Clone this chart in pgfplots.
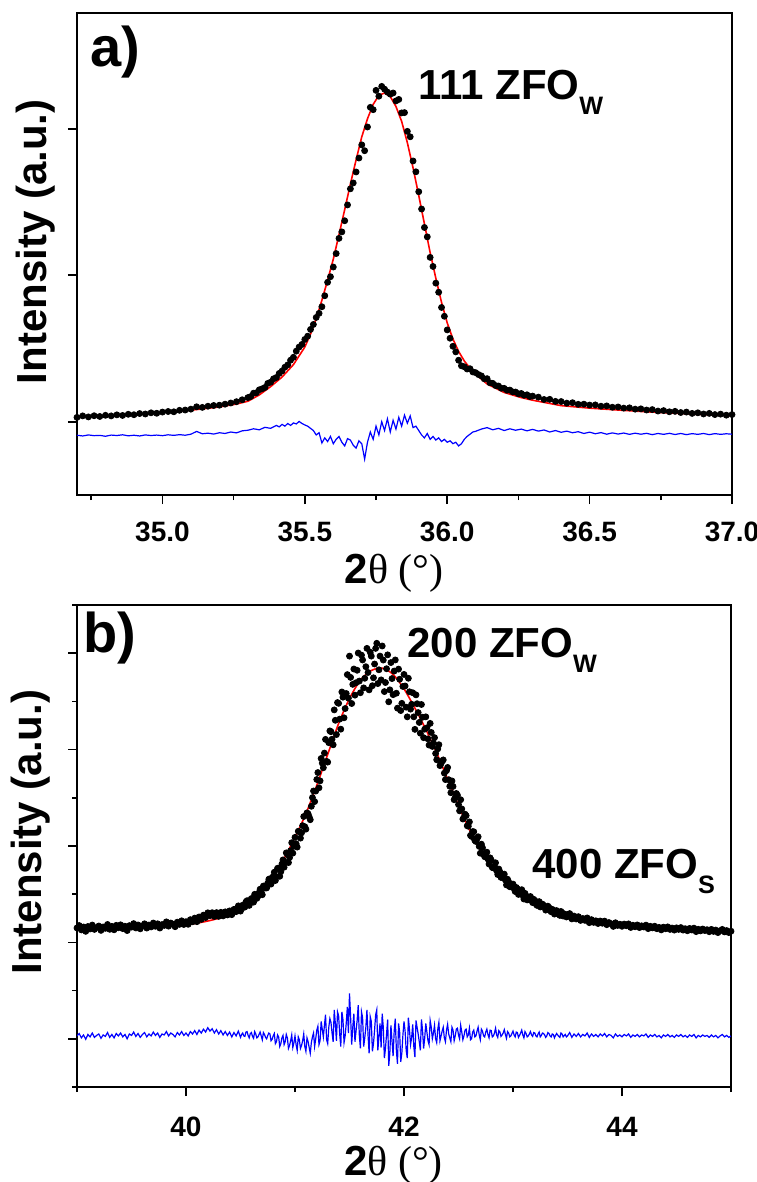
\documentclass[border=0pt]{standalone}
\usepackage{fontspec}
\setmainfont{Liberation Sans}
\newfontfamily\serif{Liberation Serif}
\usepackage{pgfplots}
\usepackage{pgfplotstable}
\pgfplotsset{compat=1.18}

% ---------- panel a: observed points ----------
\pgfplotstableread{
x y
34.70 0.030
34.72 0.040
34.74 0.033
34.76 0.041
34.78 0.036
34.80 0.044
34.82 0.040
34.84 0.047
34.86 0.043
34.88 0.051
34.90 0.048
34.92 0.056
34.94 0.053
34.96 0.061
34.98 0.058
35.00 0.066
35.02 0.070
35.04 0.068
35.06 0.078
35.08 0.080
35.10 0.086
35.12 0.102
35.14 0.098
35.16 0.106
35.18 0.111
35.20 0.113
35.22 0.120
35.24 0.128
35.26 0.137
35.28 0.150
35.30 0.165
35.31 0.172
35.32 0.195
35.33 0.198
35.34 0.218
35.35 0.225
35.36 0.234
35.37 0.262
35.38 0.270
35.39 0.293
35.40 0.302
35.41 0.330
35.42 0.346
35.43 0.372
35.44 0.388
35.45 0.420
35.46 0.440
35.47 0.482
35.48 0.510
35.49 0.528
35.50 0.562
35.51 0.584
35.52 0.630
35.53 0.664
35.54 0.712
35.55 0.740
35.56 0.785
35.57 0.860
35.58 0.952
35.59 0.990
35.60 1.056
35.61 1.148
35.62 1.252
35.63 1.296
35.64 1.372
35.65 1.480
35.66 1.590
35.67 1.630
35.68 1.705
35.69 1.800
35.70 1.890
35.71 1.850
35.72 2.012
35.73 2.146
35.74 2.130
35.75 2.262
35.76 2.222
35.77 2.289
35.78 2.270
35.79 2.250
35.80 2.236
35.81 2.244
35.82 2.190
35.83 2.200
35.84 2.108
35.85 2.110
35.86 1.982
35.87 1.945
35.88 1.780
35.89 1.706
35.90 1.570
35.91 1.452
35.92 1.326
35.93 1.262
35.94 1.122
35.95 1.060
35.96 0.946
35.97 0.884
35.98 0.780
35.99 0.720
36.00 0.627
36.01 0.570
36.02 0.515
36.03 0.477
36.04 0.420
36.05 0.382
36.06 0.375
36.07 0.360
36.08 0.362
36.09 0.340
36.10 0.335
36.11 0.322
36.12 0.313
36.13 0.293
36.14 0.294
36.15 0.266
36.16 0.262
36.17 0.247
36.18 0.244
36.19 0.229
36.20 0.228
36.21 0.215
36.22 0.216
36.23 0.204
36.24 0.203
36.25 0.191
36.26 0.193
36.27 0.181
36.28 0.184
36.29 0.172
36.30 0.175
36.32 0.168
36.34 0.152
36.36 0.153
36.38 0.139
36.40 0.138
36.42 0.127
36.44 0.130
36.46 0.119
36.48 0.120
36.50 0.114
36.52 0.115
36.54 0.106
36.56 0.108
36.58 0.099
36.60 0.101
36.62 0.093
36.64 0.095
36.66 0.086
36.68 0.088
36.70 0.080
36.72 0.083
36.74 0.073
36.76 0.076
36.78 0.068
36.80 0.071
36.82 0.063
36.84 0.066
36.86 0.057
36.88 0.061
36.90 0.053
36.92 0.057
36.94 0.049
36.96 0.052
36.98 0.045
37.00 0.049
}\dotsA

% ---------- panel a: fit ----------
\pgfplotstableread{
x y
34.70 0.034
34.80 0.040
34.90 0.050
35.00 0.064
35.10 0.079
35.20 0.101
35.26 0.121
35.30 0.140
35.34 0.183
35.38 0.240
35.42 0.305
35.46 0.390
35.50 0.510
35.52 0.598
35.54 0.704
35.56 0.830
35.58 0.966
35.60 1.110
35.62 1.277
35.64 1.448
35.66 1.622
35.68 1.788
35.70 1.945
35.72 2.068
35.74 2.166
35.76 2.228
35.78 2.244
35.80 2.220
35.82 2.152
35.84 2.050
35.86 1.905
35.88 1.733
35.90 1.545
35.92 1.350
35.94 1.155
35.96 0.980
35.98 0.815
36.00 0.675
36.02 0.565
36.04 0.480
36.06 0.415
36.08 0.365
36.10 0.325
36.14 0.258
36.20 0.200
36.26 0.165
36.30 0.147
36.40 0.110
36.50 0.093
36.60 0.080
36.70 0.068
36.80 0.058
36.90 0.049
37.00 0.041
}\fitA

% ---------- panel a: difference ----------
\pgfplotstableread{
x y
34.70 -0.092
34.72 -0.097
34.74 -0.090
34.76 -0.095
34.78 -0.093
34.80 -0.099
34.82 -0.091
34.84 -0.094
34.86 -0.089
34.88 -0.096
34.90 -0.092
34.92 -0.097
34.94 -0.090
34.96 -0.094
34.98 -0.091
35.00 -0.095
35.02 -0.089
35.04 -0.093
35.06 -0.088
35.08 -0.092
35.10 -0.085
35.12 -0.066
35.14 -0.082
35.16 -0.078
35.18 -0.084
35.20 -0.075
35.22 -0.080
35.24 -0.070
35.26 -0.076
35.28 -0.062
35.30 -0.058
35.32 -0.048
35.34 -0.055
35.36 -0.038
35.38 -0.045
35.40 -0.025
35.41 -0.035
35.42 -0.018
35.43 -0.030
35.44 -0.012
35.45 -0.025
35.46 -0.008
35.47 -0.015
35.48 0.002
35.49 -0.012
35.50 -0.022
35.51 -0.030
35.52 -0.045
35.53 -0.060
35.54 -0.090
35.55 -0.075
35.56 -0.145
35.57 -0.110
35.58 -0.135
35.59 -0.100
35.60 -0.150
35.61 -0.120
35.62 -0.100
35.63 -0.140
35.64 -0.165
35.65 -0.115
35.66 -0.125
35.67 -0.160
35.68 -0.180
35.69 -0.130
35.70 -0.150
35.71 -0.255
35.72 -0.140
35.73 -0.070
35.74 -0.120
35.75 -0.030
35.76 -0.090
35.77 0.000
35.78 -0.060
35.79 0.020
35.80 -0.070
35.81 0.010
35.82 -0.050
35.83 0.030
35.84 -0.030
35.85 0.045
35.86 -0.010
35.87 0.040
35.88 -0.040
35.89 -0.030
35.90 -0.060
35.91 -0.090
35.92 -0.110
35.93 -0.080
35.94 -0.120
35.95 -0.100
35.96 -0.125
35.97 -0.110
35.98 -0.135
35.99 -0.120
36.00 -0.140
36.01 -0.130
36.02 -0.150
36.03 -0.140
36.04 -0.165
36.05 -0.150
36.06 -0.120
36.07 -0.100
36.08 -0.085
36.09 -0.070
36.10 -0.065
36.12 -0.050
36.14 -0.040
36.16 -0.055
36.18 -0.045
36.20 -0.060
36.22 -0.048
36.24 -0.058
36.26 -0.050
36.28 -0.062
36.30 -0.052
36.32 -0.064
36.34 -0.056
36.36 -0.070
36.38 -0.060
36.40 -0.072
36.42 -0.064
36.44 -0.075
36.46 -0.068
36.48 -0.080
36.50 -0.071
36.52 -0.082
36.54 -0.074
36.56 -0.085
36.58 -0.076
36.60 -0.084
36.62 -0.077
36.64 -0.086
36.66 -0.078
36.68 -0.085
36.70 -0.079
36.72 -0.088
36.74 -0.080
36.76 -0.086
36.78 -0.079
36.80 -0.087
36.82 -0.080
36.84 -0.088
36.86 -0.081
36.88 -0.086
36.90 -0.080
36.92 -0.088
36.94 -0.081
36.96 -0.086
36.98 -0.082
37.00 -0.085
}\diffA

% ---------- panel b: observed points (d) and difference (r) ----------
\pgfplotstableread{
x d r
39.00 1.150 0.030
39.02 1.175 0.055
39.04 1.130 0.010
39.06 1.160 0.040
39.08 1.115 -0.005
39.10 1.165 0.045
39.12 1.140 0.020
39.14 1.180 0.060
39.16 1.135 0.015
39.18 1.155 0.035
39.20 1.170 0.050
39.22 1.125 0.005
39.24 1.160 0.040
39.26 1.146 0.025
39.28 1.186 0.065
39.30 1.136 0.015
39.32 1.166 0.045
39.34 1.131 0.010
39.36 1.177 0.055
39.38 1.152 0.030
39.40 1.182 0.060
39.42 1.143 0.020
39.44 1.168 0.045
39.46 1.123 0.000
39.48 1.174 0.050
39.50 1.159 0.035
39.52 1.195 0.070
39.54 1.150 0.025
39.56 1.181 0.055
39.58 1.141 0.015
39.60 1.172 0.045
39.62 1.193 0.065
39.64 1.149 0.020
39.66 1.180 0.050
39.68 1.161 0.030
39.70 1.201 0.070
39.72 1.167 0.035
39.74 1.193 0.060
39.76 1.149 0.015
39.78 1.185 0.050
39.80 1.176 0.040
39.82 1.213 0.075
39.84 1.169 0.030
39.86 1.201 0.060
39.88 1.188 0.045
39.90 1.163 0.020
39.92 1.210 0.065
39.94 1.187 0.040
39.96 1.224 0.075
39.98 1.186 0.035
40.00 1.215 0.060
40.02 1.188 0.030
40.04 1.236 0.075
40.06 1.214 0.050
40.08 1.252 0.085
40.10 1.215 0.045
40.12 1.264 0.090
40.14 1.239 0.060
40.16 1.283 0.100
40.18 1.258 0.070
40.20 1.307 0.115
40.22 1.278 0.080
40.24 1.308 0.105
40.26 1.269 0.060
40.28 1.309 0.095
40.30 1.270 0.050
40.32 1.312 0.085
40.34 1.275 0.040
40.36 1.317 0.075
40.38 1.285 0.035
40.40 1.327 0.070
40.42 1.288 0.020
40.44 1.343 0.065
40.46 1.319 0.030
40.48 1.379 0.080
40.50 1.325 0.015
40.51 1.363 0.045
40.52 1.386 0.060
40.53 1.364 0.030
40.54 1.367 0.025
40.55 1.420 0.070
40.56 1.433 0.075
40.57 1.401 0.035
40.58 1.384 0.010
40.59 1.437 0.055
40.60 1.455 0.065
40.61 1.426 0.025
40.62 1.418 0.005
40.63 1.499 0.075
40.64 1.486 0.050
40.65 1.457 0.010
40.66 1.479 0.020
40.67 1.515 0.045
40.68 1.552 0.070
40.69 1.523 0.030
40.70 1.495 -0.010
40.71 1.585 0.065
40.72 1.580 0.045
40.73 1.565 0.015
40.74 1.565 0.000
40.75 1.615 0.035
40.76 1.655 0.060
40.77 1.660 0.050
40.78 1.605 -0.020
40.79 1.635 -0.005
40.80 1.685 0.030
40.81 1.728 0.055
40.82 1.642 -0.050
40.83 1.680 -0.030
40.84 1.769 0.040
40.85 1.767 0.020
40.86 1.686 -0.080
40.87 1.734 -0.050
40.88 1.813 0.010
40.89 1.856 0.035
40.90 1.780 -0.060
40.91 1.832 -0.030
40.92 1.929 0.045
40.93 1.916 0.010
40.94 1.828 -0.100
40.95 1.880 -0.070
40.96 1.952 -0.020
40.97 2.034 0.040
40.98 1.926 -0.090
40.99 1.998 -0.040
41.00 2.090 0.030
41.01 2.024 -0.060
41.02 1.989 -0.120
41.03 2.153 0.020
41.04 2.148 -0.010
41.05 2.082 -0.100
41.06 2.137 -0.070
41.07 2.211 -0.020
41.08 2.306 0.050
41.09 2.200 -0.080
41.10 2.175 -0.130
41.11 2.344 0.010
41.12 2.334 -0.030
41.13 2.303 -0.090
41.14 2.273 -0.150
41.15 2.412 -0.040
41.16 2.502 0.020
41.17 2.571 0.060
41.18 2.461 -0.080
41.19 2.570 0.000
41.20 2.690 0.090
41.21 2.762 0.130
41.22 2.604 -0.060
41.23 2.676 -0.020
41.24 2.908 0.180
41.25 2.860 0.100
41.26 2.812 0.020
41.27 2.964 0.140
41.28 3.106 0.250
41.29 2.878 -0.010
41.30 2.870 -0.050
41.31 3.072 0.120
41.32 3.194 0.210
41.33 3.186 0.170
41.34 3.108 0.060
41.35 3.050 -0.030
41.36 3.412 0.300
41.37 3.304 0.160
41.38 3.156 -0.020
41.39 3.488 0.280
41.40 3.480 0.240
41.41 3.316 0.050
41.42 3.212 -0.080
41.43 3.598 0.280
41.44 3.544 0.200
41.45 3.330 -0.040
41.46 3.426 0.030
41.47 3.582 0.160
41.48 3.778 0.330
41.49 3.534 0.060
41.50 3.970 0.470
41.51 3.749 0.230
41.52 3.478 -0.060
41.53 3.677 0.120
41.54 3.836 0.260
41.55 3.565 -0.030
41.56 3.694 0.080
41.57 3.823 0.190
41.58 4.002 0.350
41.59 3.711 0.040
41.60 3.590 -0.100
41.61 3.980 0.280
41.62 3.930 0.220
41.63 3.640 -0.080
41.64 3.740 0.010
41.65 3.860 0.120
41.66 4.050 0.300
41.67 3.800 0.040
41.68 3.620 -0.150
41.69 4.010 0.230
41.70 3.970 0.180
41.71 3.663 -0.130
41.72 3.745 -0.050
41.73 3.888 0.090
41.74 4.050 0.250
41.75 4.103 0.300
41.76 3.685 -0.120
41.77 3.828 0.020
41.78 3.970 0.160
41.79 3.723 -0.090
41.80 4.075 0.260
41.81 3.929 0.120
41.82 3.602 -0.200
41.83 3.696 -0.100
41.84 3.839 0.050
41.85 3.983 0.200
41.86 3.496 -0.280
41.87 3.620 -0.150
41.88 3.903 0.140
41.89 3.737 -0.020
41.90 3.570 -0.180
41.91 3.815 0.080
41.92 3.930 0.210
41.93 3.585 -0.120
41.94 3.430 -0.260
41.95 3.835 0.160
41.96 3.730 0.070
41.97 3.405 -0.240
41.98 3.480 -0.150
41.99 3.655 0.040
42.00 3.780 0.180
42.01 3.660 0.080
42.02 3.440 -0.120
42.03 3.340 -0.200
42.04 3.740 0.220
42.05 3.600 0.100
42.06 3.420 -0.060
42.07 3.470 0.010
42.08 3.590 0.150
42.09 3.340 -0.080
42.10 3.210 -0.190
42.11 3.568 0.190
42.12 3.476 0.120
42.13 3.384 0.050
42.14 3.282 -0.030
42.15 3.170 -0.120
42.16 3.468 0.200
42.17 3.336 0.090
42.18 3.124 -0.100
42.19 3.212 0.010
42.20 3.340 0.160
42.21 3.226 0.070
42.22 3.111 -0.020
42.23 3.047 -0.060
42.24 3.272 0.190
42.25 3.178 0.120
42.26 3.033 0.000
42.27 3.069 0.060
42.28 3.124 0.140
42.29 2.960 0.000
42.30 2.895 -0.040
42.31 3.008 0.100
42.32 3.051 0.170
42.33 2.834 -0.020
42.34 2.857 0.030
42.35 2.880 0.080
42.36 2.893 0.120
42.37 2.756 0.010
42.38 2.689 -0.030
42.39 2.782 0.090
42.40 2.815 0.150
42.41 2.688 0.050
42.42 2.620 0.010
42.43 2.553 -0.030
42.44 2.675 0.120
42.45 2.618 0.090
42.46 2.480 -0.020
42.47 2.503 0.030
42.48 2.545 0.100
42.49 2.528 0.110
42.50 2.430 0.040
42.51 2.365 0.000
42.52 2.480 0.140
42.53 2.385 0.070
42.54 2.280 -0.010
42.55 2.295 0.030
42.56 2.330 0.090
42.57 2.315 0.100
42.58 2.210 0.020
42.59 2.205 0.040
42.60 2.250 0.110
42.61 2.110 -0.010
42.62 2.099 0.000
42.63 2.149 0.070
42.64 2.148 0.090
42.65 2.058 0.020
42.66 2.047 0.030
42.67 2.077 0.080
42.68 2.096 0.120
42.69 1.996 0.040
42.70 1.925 -0.010
42.71 2.019 0.100
42.72 1.982 0.080
42.73 1.916 0.030
42.74 1.889 0.020
42.75 1.923 0.070
42.76 1.936 0.100
42.77 1.865 0.045
42.78 1.813 0.010
42.79 1.877 0.090
42.80 1.855 0.085
42.81 1.777 0.020
42.82 1.773 0.030
42.83 1.790 0.060
42.84 1.826 0.110
42.85 1.743 0.040
42.86 1.704 0.015
42.87 1.761 0.085
42.88 1.732 0.070
42.89 1.674 0.025
42.90 1.675 0.040
42.91 1.684 0.060
42.92 1.708 0.095
42.93 1.647 0.045
42.94 1.596 0.005
42.95 1.655 0.075
42.96 1.629 0.060
42.97 1.578 0.020
42.98 1.577 0.030
42.99 1.591 0.055
43.00 1.605 0.080
43.01 1.557 0.040
43.02 1.528 0.020
43.03 1.570 0.070
43.04 1.556 0.065
43.05 1.498 0.015
43.06 1.509 0.035
43.07 1.526 0.060
43.08 1.547 0.090
43.09 1.489 0.040
43.10 1.450 0.010
43.11 1.509 0.075
43.12 1.482 0.055
43.13 1.441 0.020
43.14 1.444 0.030
43.15 1.458 0.050
43.16 1.476 0.075
43.17 1.435 0.040
43.18 1.413 0.025
43.19 1.447 0.065
43.20 1.435 0.060
43.21 1.400 0.030
43.22 1.384 0.020
43.23 1.409 0.050
43.24 1.423 0.070
43.25 1.368 0.020
43.26 1.377 0.035
43.27 1.397 0.060
43.28 1.386 0.055
43.29 1.366 0.040
43.30 1.335 0.015
43.31 1.346 0.030
43.32 1.376 0.065
43.33 1.362 0.055
43.34 1.332 0.030
43.35 1.318 0.020
43.36 1.343 0.050
43.37 1.334 0.045
43.38 1.294 0.010
43.39 1.315 0.035
43.40 1.330 0.055
43.41 1.312 0.040
43.42 1.293 0.025
43.43 1.280 0.015
43.44 1.321 0.060
43.45 1.308 0.050
43.46 1.274 0.020
43.47 1.286 0.035
43.48 1.292 0.045
43.49 1.264 0.020
43.50 1.270 0.030
43.52 1.299 0.065
43.54 1.244 0.015
43.56 1.273 0.050
43.58 1.243 0.025
43.60 1.267 0.055
43.62 1.228 0.020
43.64 1.248 0.045
43.66 1.229 0.030
43.68 1.254 0.060
43.70 1.205 0.015
43.72 1.236 0.050
43.74 1.208 0.025
43.76 1.224 0.045
43.78 1.196 0.020
43.80 1.222 0.050
43.82 1.199 0.030
43.84 1.221 0.055
43.86 1.184 0.020
43.88 1.206 0.045
43.90 1.193 0.035
43.92 1.166 0.010
43.94 1.204 0.050
43.96 1.176 0.025
43.98 1.189 0.040
44.00 1.167 0.020
44.02 1.190 0.045
44.04 1.173 0.030
44.06 1.192 0.050
44.08 1.155 0.015
44.10 1.178 0.040
44.12 1.162 0.025
44.14 1.181 0.045
44.16 1.154 0.020
44.18 1.172 0.040
44.20 1.160 0.030
44.22 1.179 0.050
44.24 1.143 0.015
44.26 1.167 0.040
44.28 1.151 0.025
44.30 1.168 0.045
44.32 1.142 0.020
44.34 1.156 0.035
44.36 1.130 0.010
44.38 1.158 0.040
44.40 1.142 0.025
44.42 1.161 0.045
44.44 1.135 0.020
44.46 1.149 0.035
44.48 1.128 0.015
44.50 1.151 0.040
44.52 1.135 0.025
44.54 1.154 0.045
44.56 1.128 0.020
44.58 1.142 0.035
44.60 1.121 0.015
44.62 1.145 0.040
44.64 1.129 0.025
44.66 1.148 0.045
44.68 1.112 0.010
44.70 1.136 0.035
44.72 1.120 0.020
44.74 1.139 0.040
44.76 1.123 0.025
44.78 1.132 0.035
44.80 1.111 0.015
44.82 1.135 0.040
44.84 1.114 0.020
44.86 1.128 0.035
44.88 1.102 0.010
44.90 1.121 0.030
44.92 1.135 0.045
44.94 1.109 0.020
44.96 1.123 0.035
44.98 1.102 0.015
45.00 1.116 0.030
}\dataB

% ---------- panel b: fit ----------
\pgfplotstableread{
x y
39.0 1.150
39.2 1.150
39.4 1.152
39.6 1.157
39.8 1.166
40.0 1.185
40.1 1.200
40.2 1.222
40.3 1.250
40.4 1.287
40.5 1.340
40.6 1.420
40.7 1.535
40.8 1.685
40.9 1.870
41.0 2.090
41.1 2.335
41.2 2.630
41.3 2.950
41.4 3.270
41.5 3.530
41.6 3.720
41.7 3.820
41.8 3.845
41.9 3.780
42.0 3.630
42.1 3.430
42.2 3.210
42.3 2.965
42.4 2.695
42.5 2.420
42.6 2.170
42.7 1.965
42.8 1.800
42.9 1.665
43.0 1.555
43.1 1.470
43.2 1.405
43.3 1.350
43.4 1.305
43.5 1.270
43.6 1.242
43.7 1.220
43.8 1.202
43.9 1.188
44.0 1.177
44.2 1.160
44.4 1.147
44.6 1.136
44.8 1.126
45.0 1.116
}\fitB

\begin{document}
\begin{tikzpicture}
\pgfplotsset{
  panel/.style={
    scale only axis,
    tick align=outside,
    tick pos=left,
    major tick length=4.5pt,
    minor tick length=2.5pt,
    every tick/.style={black, line width=0.8pt},
    axis line style={line width=0.8pt},
    ticklabel style={font=\fontsize{14}{16}\selectfont\bfseries},
    label style={font=\fontsize{21}{25}\selectfont\bfseries},
    xlabel={2{\serif\mdseries θ (°)}},
    ylabel={Intensity (a.u.)},
    yticklabel=\empty,
  },
  dots/.style={only marks, mark=*, mark size=1.5pt, mark options={draw=black, fill=black}},
  fit/.style={red, line width=0.8pt, no marks},
  diff/.style={blue, line width=0.6pt, no marks},
}
% ---------------- panel a ----------------
\begin{axis}[panel,
  at={(38.5pt,-247.5pt)}, anchor=south west,
  width=327.5pt, height=241pt,
  xmin=34.7, xmax=37.0, ymin=-0.5, ymax=2.79,
  xtick={35,35.5,36,36.5,37},
  xticklabels={35.0,35.5,36.0,36.5,37.0},
  minor xtick={34.75,35.25,35.75,36.25,36.75},
  ytick={0,1,2},
  xticklabel style={inner sep=0pt, anchor=north, yshift=-9pt},
  x label style={at={(axis description cs:0.484,-0.1826)}, anchor=base},
  y label style={at={(axis description cs:-0.0626,0.525)}, anchor=center},
]
\addplot[dots] table[x=x, y=y] {\dotsA};
\addplot[fit] table[x=x, y=y] {\fitA};
\addplot[diff] table[x=x, y=y] {\diffA};
\end{axis}
% ---------------- panel b ----------------
\begin{axis}[panel,
  at={(38.5pt,-543.5pt)}, anchor=south west,
  width=327pt, height=241pt,
  xmin=39, xmax=45, ymin=-0.5, ymax=4.5,
  xtick={40,42,44},
  xticklabels={40,42,44},
  minor xtick={39,41,43,45},
  ytick={0,1,2,3,4},
  minor ytick={-0.5,0.5,1.5,2.5,3.5,4.5},
  xticklabel style={inner sep=0pt, anchor=north, yshift=-10.5pt},
  x label style={at={(axis description cs:0.484,-0.1826)}, anchor=base},
  y label style={at={(axis description cs:-0.0703,0.529)}, anchor=center},
]
\addplot[dots] table[x=x, y=d] {\dataB};
\addplot[fit, smooth] table[x=x, y=y] {\fitB};
\addplot[diff] table[x=x, y=r] {\dataB};
\end{axis}
% ---------------- annotations ----------------
\node[anchor=base west, inner sep=0pt, font=\fontsize{28}{30}\selectfont\bfseries] at (45pt,-33.5pt) {a)};
\node[anchor=base west, inner sep=0pt, font=\fontsize{28}{30}\selectfont\bfseries] at (41.5pt,-326pt) {b)};
\node[anchor=base west, inner sep=0pt, font=\fontsize{21}{25}\selectfont\bfseries] at (209pt,-50pt)
  {111 ZFO\raisebox{-7.5pt}{\fontsize{12.6}{14}\selectfont W}};
\node[anchor=base west, inner sep=0pt, font=\fontsize{21}{25}\selectfont\bfseries] at (203.5pt,-328.5pt)
  {200 ZFO\raisebox{-7.5pt}{\fontsize{12.6}{14}\selectfont W}};
\node[anchor=base west, inner sep=0pt, font=\fontsize{21}{25}\selectfont\bfseries] at (266pt,-439pt)
  {400 ZFO\raisebox{-7.5pt}{\fontsize{12.6}{14}\selectfont S}};
\pgfresetboundingbox
\path[use as bounding box] (0pt,0pt) rectangle (378pt,-591pt);
\end{tikzpicture}
\end{document}
